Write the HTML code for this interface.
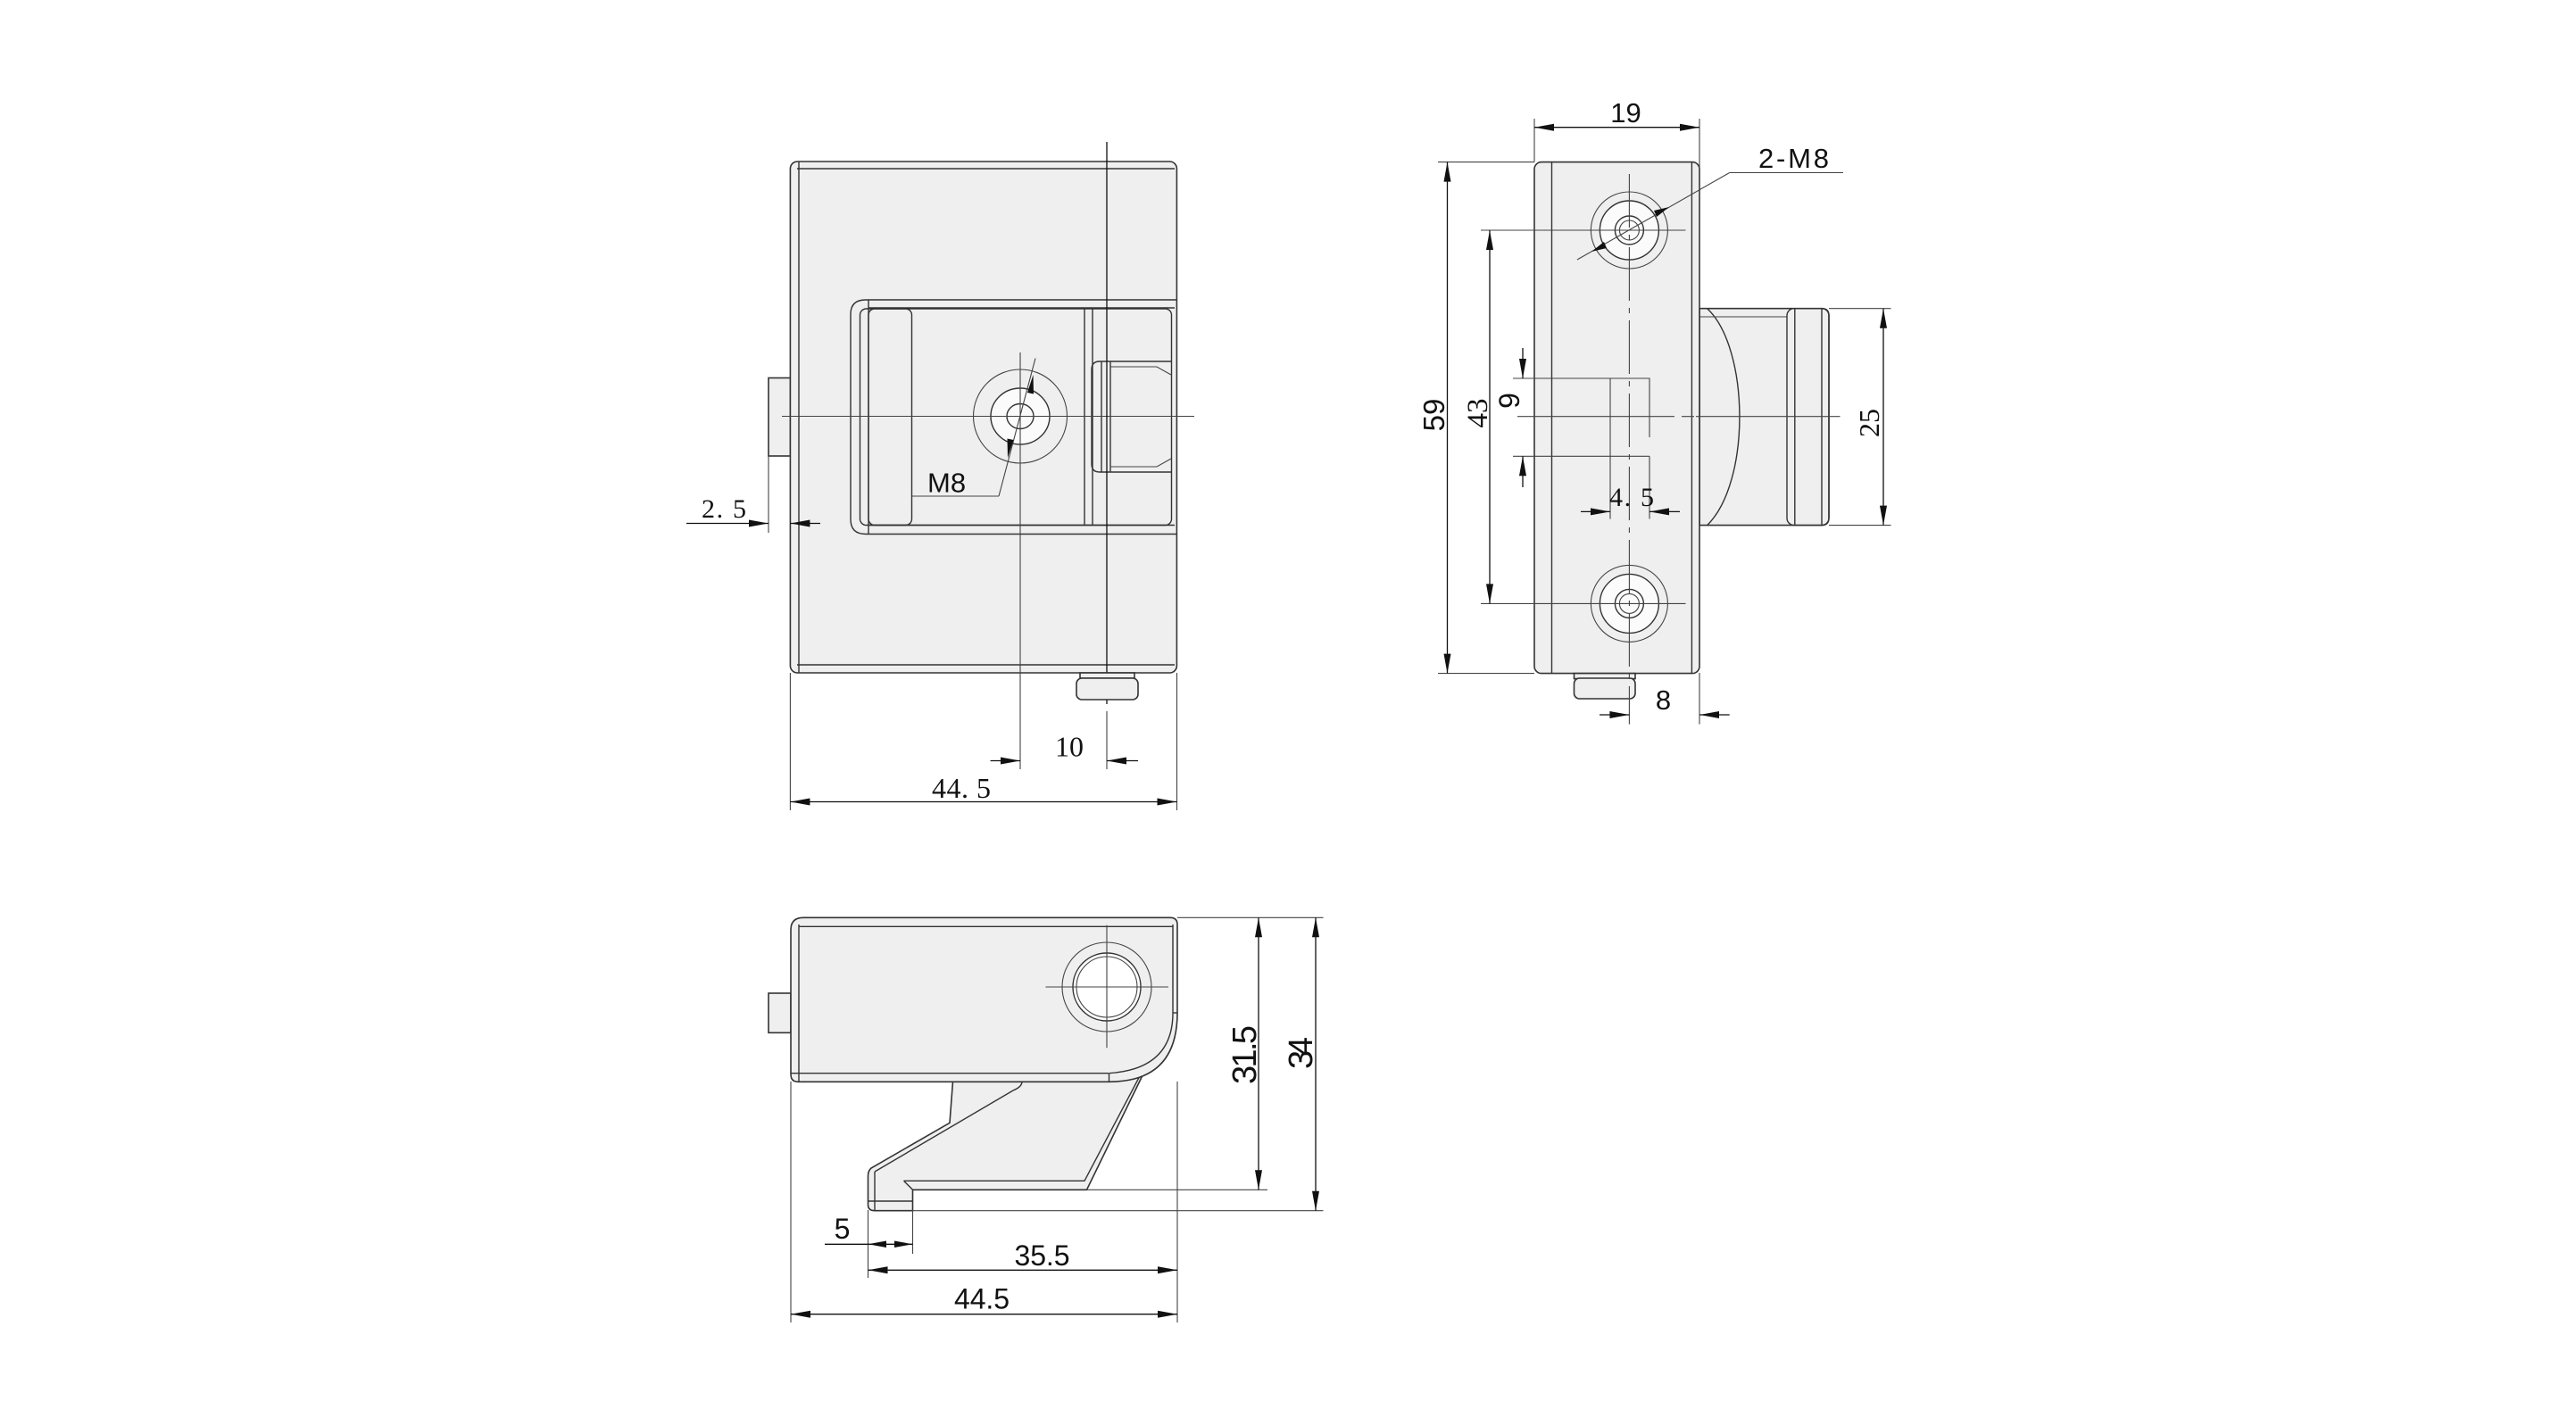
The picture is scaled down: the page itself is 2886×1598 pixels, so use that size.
<!DOCTYPE html>
<html><head><meta charset="utf-8"><style>
html,body{margin:0;padding:0;background:#fff;}
svg{display:block;}
.o{fill:#efefef;stroke:#333;stroke-width:1.6;}
.l{fill:none;stroke:#333;stroke-width:1.4;}
.t{fill:none;stroke:#444;stroke-width:1.1;}
.d{fill:none;stroke:#111;stroke-width:1.3;}
.s{font-family:"Liberation Sans",sans-serif;fill:#111;}
.r{font-family:"Liberation Serif",serif;fill:#111;}
</style></head><body>
<svg width="2886" height="1598" viewBox="0 0 2886 1598" xmlns="http://www.w3.org/2000/svg">
<defs>
<marker id="a" markerUnits="userSpaceOnUse" markerWidth="30" markerHeight="12" viewBox="-24 -6 26 12" refX="0" refY="0" orient="auto-start-reverse"><path d="M0,0 L-22,-4 L-22,4 Z" fill="#111"/></marker>
</defs>

<!-- ============ FRONT VIEW ============ -->
<rect x="861" y="423.5" width="24.5" height="87.5" class="o"/>
<rect x="885.4" y="181" width="433" height="573" rx="8" class="o"/>
<line x1="895" y1="181" x2="895" y2="754" class="l"/>
<line x1="893" y1="189" x2="1316" y2="189" class="l"/>
<line x1="893" y1="745" x2="1316" y2="745" class="l"/>
<path d="M1318,336 L970,336 Q953,336 953,352 L953,582 Q953,598.5 970,598.5 L1318,598.5" class="l"/>
<line x1="973" y1="336" x2="973" y2="598.5" class="l"/>
<line x1="973" y1="345" x2="1316" y2="345" class="l"/>
<line x1="973" y1="588.5" x2="1316" y2="588.5" class="l"/>
<rect x="963.5" y="346" width="349" height="242.5" rx="7" class="l"/>
<rect x="973" y="346" width="48.5" height="242.5" rx="7" class="l"/>
<line x1="1215" y1="346" x2="1215" y2="588.5" class="l"/>
<line x1="1224" y1="346" x2="1224" y2="588.5" class="l"/>
<path d="M1312,405 L1232,405 Q1223,405 1223,414 L1223,520 Q1223,529 1232,529 L1312,529" class="l"/>
<line x1="1234" y1="405" x2="1234" y2="529" class="l"/>
<line x1="1244" y1="405" x2="1244" y2="529" class="l"/>
<path d="M1244,411 L1296,411 L1312,420" class="t"/>
<path d="M1244,523 L1296,523 L1312,514" class="t"/>
<circle cx="1143" cy="466.5" r="52.5" class="t"/>
<ellipse cx="1143" cy="466.5" rx="33" ry="31.5" class="l" style="fill:#fbfbfb"/>
<ellipse cx="1143" cy="466.5" rx="15" ry="14" class="l"/>
<line x1="876" y1="466.5" x2="1338" y2="466.5" class="t"/>
<line x1="1143" y1="395" x2="1143" y2="862" class="t"/>
<line x1="1240" y1="159" x2="1240" y2="789" class="d"/>
<line x1="1240" y1="797" x2="1240" y2="862" class="t"/>
<rect x="1210" y="754" width="61" height="6" class="o"/>
<rect x="1206" y="760" width="69" height="24" rx="6" class="o"/>
<!-- M8 leader -->
<line x1="1160" y1="401.5" x2="1119" y2="556" class="t"/>
<line x1="1119" y1="556" x2="1021.5" y2="556" class="t"/>
<path d="M1157.5,420 L1151,440 L1158,441.5 Z" fill="#111"/>
<path d="M1129,513 L1135.5,493 L1128.5,491.5 Z" fill="#111"/>
<text x="1039" y="551.5" class="s" font-size="31">M8</text>
<!-- 2.5 -->
<line x1="861" y1="511" x2="861" y2="597" class="t"/>
<line x1="769" y1="586.5" x2="861" y2="586.5" class="d" marker-end="url(#a)"/>
<line x1="919" y1="586.5" x2="885.4" y2="586.5" class="d" marker-end="url(#a)"/>
<text x="786" y="580" class="r" font-size="30" textLength="50">2. 5</text>
<!-- 10 -->
<line x1="1109.6" y1="852.5" x2="1143" y2="852.5" class="d" marker-end="url(#a)"/>
<line x1="1275" y1="852.5" x2="1240" y2="852.5" class="d" marker-end="url(#a)"/>
<text x="1198" y="847.5" class="r" font-size="32" text-anchor="middle">10</text>
<!-- 44.5 -->
<line x1="885.4" y1="754" x2="885.4" y2="908" class="t"/>
<line x1="1318.5" y1="754" x2="1318.5" y2="908" class="t"/>
<line x1="885.4" y1="898.5" x2="1318.5" y2="898.5" class="d" marker-start="url(#a)" marker-end="url(#a)"/>
<text x="1077" y="894" class="r" font-size="32" text-anchor="middle" textLength="66">44. 5</text>

<!-- ============ SIDE VIEW ============ -->
<path d="M1904,345.7 L2041,345.7 Q2049,345.7 2049,354 L2049,580 Q2049,588.6 2041,588.6 L1904,588.6 Z" class="o"/>
<path d="M1912.7,345.7 C1960,390 1962,540 1912.7,588.6" class="l"/>
<line x1="1904" y1="355" x2="2002" y2="355" class="t"/>
<rect x="2002" y="345.7" width="47" height="242.9" rx="8" class="l"/>
<line x1="2010.8" y1="345.7" x2="2010.8" y2="588.6" class="l"/>
<line x1="2041" y1="345.7" x2="2041" y2="588.6" class="l"/>
<rect x="1719" y="181.6" width="185" height="573" rx="8" class="o"/>
<line x1="1738.5" y1="181.6" x2="1738.5" y2="754.6" class="l"/>
<line x1="1895.4" y1="181.6" x2="1895.4" y2="754.6" class="l"/>
<rect x="1763.5" y="754.6" width="68.5" height="6" class="o"/>
<rect x="1763.5" y="760" width="68.5" height="23" rx="6" class="o"/>
<g>
<circle cx="1825.4" cy="258" r="43" class="t"/>
<circle cx="1825.4" cy="258" r="33" class="l" style="fill:#fbfbfb"/>
<circle cx="1825.4" cy="258" r="16" class="l"/>
<circle cx="1825.4" cy="258" r="11" class="t"/>
<circle cx="1825.4" cy="676.4" r="43" class="t"/>
<circle cx="1825.4" cy="676.4" r="33" class="l" style="fill:#fbfbfb"/>
<circle cx="1825.4" cy="676.4" r="16" class="l"/>
<circle cx="1825.4" cy="676.4" r="11" class="t"/>
</g>
<line x1="1659" y1="258" x2="1888.5" y2="258" class="t"/>
<line x1="1659" y1="676.4" x2="1888.5" y2="676.4" class="t"/>
<line x1="1825.4" y1="195" x2="1825.4" y2="811.6" class="t" stroke-dasharray="60 8 6 8"/>
<path d="M1695,424 L1848,424 L1848,490 M1695,511.3 L1848,511.3 M1804,424 L1804,581.5 M1848,511.3 L1848,581.5" class="t"/>
<line x1="1700" y1="466.7" x2="1862" y2="466.7" class="t"/>
<line x1="1862" y1="466.7" x2="1900" y2="466.7" class="t" stroke-dasharray="14 8"/>
<line x1="1900" y1="466.7" x2="2061.5" y2="466.7" class="t"/>
<line x1="1706" y1="390" x2="1706" y2="424" class="d" marker-end="url(#a)"/>
<line x1="1706" y1="546" x2="1706" y2="511.3" class="d" marker-end="url(#a)"/>
<text x="1702" y="449" class="s" font-size="32" text-anchor="middle" transform="rotate(-90 1702 449)">9</text>
<line x1="1669" y1="258" x2="1669" y2="676.4" class="d" marker-start="url(#a)" marker-end="url(#a)"/>
<text x="1666" y="463" class="r" font-size="33" text-anchor="middle" transform="rotate(-90 1666 463)">43</text>
<line x1="1611" y1="181.6" x2="1719" y2="181.6" class="t"/>
<line x1="1611" y1="754.6" x2="1719" y2="754.6" class="t"/>
<line x1="1621.5" y1="181.6" x2="1621.5" y2="754.6" class="d" marker-start="url(#a)" marker-end="url(#a)"/>
<text x="1618" y="465" class="s" font-size="33" text-anchor="middle" transform="rotate(-90 1618 465)">59</text>
<line x1="1719" y1="133" x2="1719" y2="181.6" class="t"/>
<line x1="1904" y1="133" x2="1904" y2="345" class="t"/>
<line x1="1719" y1="142.7" x2="1904" y2="142.7" class="d" marker-start="url(#a)" marker-end="url(#a)"/>
<text x="1821.5" y="137" class="s" font-size="31" text-anchor="middle">19</text>
<line x1="1767" y1="291" x2="1937.7" y2="193.5" class="t"/>
<line x1="1937.7" y1="193.5" x2="2065" y2="193.5" class="t"/>
<path d="M1783,282 L1797,271 L1800,278 Z" fill="#111"/>
<path d="M1870,232 L1856,243 L1853,236 Z" fill="#111"/>
<text x="1970" y="188" class="s" font-size="31" textLength="79">2-M8</text>
<line x1="1771" y1="573.4" x2="1804" y2="573.4" class="d" marker-end="url(#a)"/>
<line x1="1882" y1="573.4" x2="1848" y2="573.4" class="d" marker-end="url(#a)"/>
<text x="1803" y="567" class="r" font-size="30" textLength="50">4. 5</text>
<line x1="2049" y1="345.7" x2="2118.5" y2="345.7" class="t"/>
<line x1="2049" y1="588.6" x2="2118.5" y2="588.6" class="t"/>
<line x1="2110" y1="345.7" x2="2110" y2="588.6" class="d" marker-start="url(#a)" marker-end="url(#a)"/>
<text x="2105" y="474" class="r" font-size="32" text-anchor="middle" transform="rotate(-90 2105 474)">25</text>
<line x1="1904" y1="754" x2="1904" y2="811.6" class="t"/>
<line x1="1792" y1="801" x2="1825.4" y2="801" class="d" marker-end="url(#a)"/>
<line x1="1937.7" y1="801" x2="1904" y2="801" class="d" marker-end="url(#a)"/>
<text x="1863.5" y="795" class="s" font-size="31" text-anchor="middle">8</text>

<!-- ============ BOTTOM VIEW ============ -->
<path d="M1067.5,1212 L1064,1258.3 L976,1309 Q972.5,1312 972.5,1318 L972.5,1350 Q972.5,1356.7 980,1356.7 L1022.5,1356.7 L1022.5,1333.3 L1217.5,1333.3 L1282.5,1200 L1200,1212 Z" class="o"/>
<path d="M980,1313 L1135,1222 Q1145,1218 1145,1212" class="l"/>
<path d="M1012.5,1323.3 L1215,1323.3 L1280,1200" class="l"/>
<line x1="1012.5" y1="1323.3" x2="1022.5" y2="1333.3" class="l"/>
<line x1="980" y1="1313" x2="980" y2="1356.7" class="l"/>
<line x1="972.5" y1="1346" x2="1022.5" y2="1346" class="l"/>
<rect x="861" y="1113" width="25" height="44.3" class="o"/>
<path d="M900,1028.3 L1311,1028.3 Q1319,1028.3 1319,1036 L1319,1135 Q1319,1212.3 1242.5,1212.3 L894,1212.3 Q886,1212.3 886,1204 L886,1042 Q886,1028.3 900,1028.3 Z" class="o"/>
<line x1="895" y1="1038.3" x2="1314" y2="1038.3" class="l"/>
<line x1="895" y1="1036" x2="895" y2="1212" class="l"/>
<line x1="886" y1="1202.7" x2="1242" y2="1202.7" class="l"/>
<path d="M1314,1036 L1314,1135 Q1314,1198 1242.5,1202.7" class="l"/>
<line x1="1242.5" y1="1202.7" x2="1242.5" y2="1212.3" class="l"/>
<line x1="1314" y1="1135" x2="1319" y2="1135" class="l"/>
<circle cx="1240" cy="1106" r="50" class="t"/>
<circle cx="1240" cy="1106" r="38" class="l" stroke-width="2.4" style="fill:#fff"/>
<circle cx="1240" cy="1106" r="34" class="t"/>
<line x1="1171.5" y1="1106" x2="1309" y2="1106" class="t"/>
<line x1="1240" y1="1036.7" x2="1240" y2="1174.3" class="t"/>
<line x1="1217.5" y1="1333.3" x2="1420" y2="1333.3" class="t"/>
<line x1="1319" y1="1028.3" x2="1482.5" y2="1028.3" class="t"/>
<line x1="1022.5" y1="1356.7" x2="1482.5" y2="1356.7" class="t"/>
<line x1="1410" y1="1028.3" x2="1410" y2="1333.3" class="d" marker-start="url(#a)" marker-end="url(#a)"/>
<text x="1407" y="1182" class="s" font-size="38" text-anchor="middle" textLength="66" transform="rotate(-90 1407 1182)">31.5</text>
<line x1="1474" y1="1028.3" x2="1474" y2="1356.7" class="d" marker-start="url(#a)" marker-end="url(#a)"/>
<text x="1470" y="1180" class="s" font-size="38" text-anchor="middle" textLength="36" transform="rotate(-90 1470 1180)">34</text>
<line x1="972.5" y1="1356" x2="972.5" y2="1432" class="t"/>
<line x1="1022.5" y1="1356" x2="1022.5" y2="1405" class="t"/>
<line x1="924" y1="1394.3" x2="972.5" y2="1394.3" class="d"/>
<path d="M972.5,1394.3 L993,1390.5 L993,1398 Z M1022.5,1394.3 L1002,1390.5 L1002,1398 Z" fill="#111"/>
<line x1="972.5" y1="1394.3" x2="1022.5" y2="1394.3" class="d"/>
<text x="943.5" y="1388" class="s" font-size="32" text-anchor="middle">5</text>
<line x1="1319" y1="1212" x2="1319" y2="1482" class="t"/>
<line x1="972.5" y1="1423.3" x2="1319" y2="1423.3" class="d" marker-start="url(#a)" marker-end="url(#a)"/>
<text x="1167.5" y="1418" class="s" font-size="32" text-anchor="middle" textLength="62">35.5</text>
<line x1="886" y1="1212" x2="886" y2="1482" class="t"/>
<line x1="886" y1="1472.7" x2="1319" y2="1472.7" class="d" marker-start="url(#a)" marker-end="url(#a)"/>
<text x="1100" y="1466.7" class="s" font-size="32" text-anchor="middle" textLength="62">44.5</text>
</svg>
</body></html>
